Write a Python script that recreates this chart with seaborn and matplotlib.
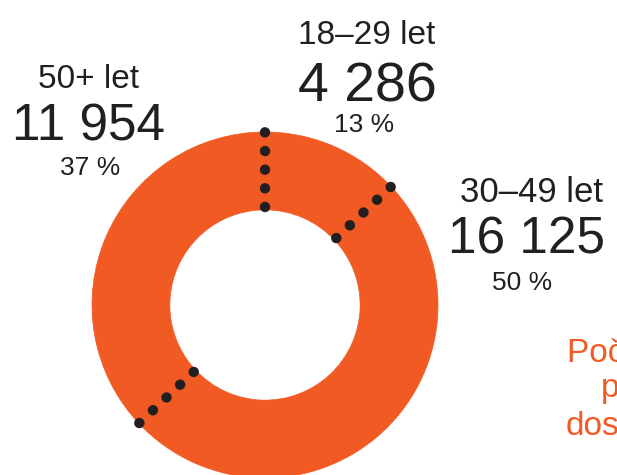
import matplotlib
matplotlib.use("Agg")
import matplotlib.pyplot as plt
from matplotlib import font_manager
import numpy as np
import seaborn as sns

# ---- data ----
categories = ["18–29 let", "30–49 let", "50+ let"]
counts = [4286, 16125, 11954]
percents = [13, 50, 37]
count_labels = ["4 286", "16 125", "11 954"]
side_lines = ["Počet uchazečů", "podle věku", "dosažených"]

ORANGE = "#F15A22"
DARK = "#231F20"

sns.set_theme(style="white")
avail = {f.name for f in font_manager.fontManager.ttflist}
fam = "Liberation Sans Narrow" if "Liberation Sans Narrow" in avail else "Liberation Sans"
plt.rcParams["font.family"] = [fam, "DejaVu Sans"]

W, H = 617, 475
fig = plt.figure(figsize=(W / 100, H / 100), dpi=100)
ax = fig.add_axes([0, 0, 1, 1])

# pixel geometry of the donut
cx, cy, R = 265, 305, 173
inner = 0.55

ax.pie(percents, radius=1, startangle=90, counterclock=False,
       colors=[ORANGE] * len(percents),
       wedgeprops=dict(width=1 - inner, edgecolor=ORANGE, linewidth=0.5))

# dotted separators at wedge boundaries (derived from data)
cum = np.cumsum([0] + percents[:-1]) / np.sum(percents)
for c in cum:
    ang = np.deg2rad(90 - 360 * c)
    r = np.array([inner + 0.015, 1.0])
    ax.plot(r * np.cos(ang), r * np.sin(ang), color=DARK, lw=7.5,
            linestyle=(0, (0.01, 1.78)), dash_capstyle="round",
            solid_capstyle="round")

ax.set_xlim(-cx / R, (W - cx) / R)
ax.set_ylim((cy - H) / R, cy / R)
ax.set_aspect("auto")
ax.axis("off")

def fx(px):
    return px / W

def fy(py):
    return 1 - py / H

# label layout (pixel positions) for each category
lab_pos = {
    "18–29 let": [(367, 35, 24), (367, 87, 40), (364, 125, 19)],
    "30–49 let": [(532, 192, 25), (526, 240, 37), (522, 283, 19)],
    "50+ let":   [(88, 80, 24), (88, 127, 37), (90, 168, 19)],
}
for cat, cl, pc in zip(categories, count_labels, percents):
    (x1, y1, s1), (x2, y2, s2), (x3, y3, s3) = lab_pos[cat]
    fig.text(fx(x1), fy(y1), cat, ha="center", va="center", fontsize=s1, color=DARK)
    fig.text(fx(x2), fy(y2), cl, ha="center", va="center", fontsize=s2, color=DARK)
    fig.text(fx(x3), fy(y3), f"{pc} %", ha="center", va="center", fontsize=s3, color=DARK)

side_xy = [(567, 362), (601, 397), (566, 435)]
for line, (x, y) in zip(side_lines, side_xy):
    fig.text(fx(x), fy(y), line, ha="left", va="baseline", fontsize=24, color=ORANGE)

fig.savefig("out.png", dpi=100, facecolor="white")
